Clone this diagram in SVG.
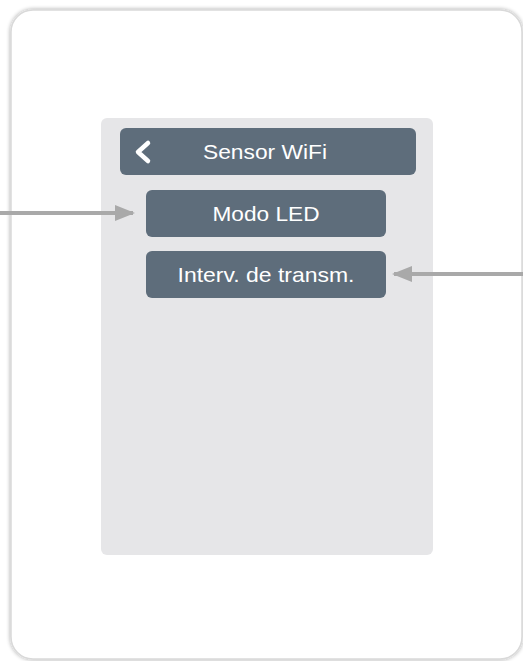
<svg xmlns="http://www.w3.org/2000/svg" width="523" height="661" viewBox="0 0 523 661">
<defs>
<filter id="sh" x="-5%" y="-5%" width="110%" height="110%">
<feGaussianBlur in="SourceAlpha" stdDeviation="2"/>
<feOffset dx="0" dy="0"/>
<feComponentTransfer><feFuncA type="linear" slope="0.35"/></feComponentTransfer>
<feMerge><feMergeNode/><feMergeNode in="SourceGraphic"/></feMerge>
</filter>
<marker id="ah" markerWidth="5" markerHeight="4" refX="4.5" refY="2" orient="auto" markerUnits="strokeWidth">
<path d="M0,0 L5,2 L0,4 Z" fill="#a9a9a9"/>
</marker>
</defs>
<style>
.btn{fill:#5e6d7b}
.lbl{font-family:"Liberation Sans",Arial,sans-serif;font-size:21px;fill:#ffffff;text-anchor:middle}
.conn{stroke:#a9a9a9;stroke-width:4;fill:none}
</style>
<rect width="523" height="661" fill="#ffffff"/>
<g id="frame">
<rect x="11" y="10" width="511" height="649" rx="22" fill="#ffffff" stroke="#d9d9d9" stroke-width="1.5" filter="url(#sh)"/>
</g>
<g id="panel">
<rect x="101" y="118" width="332" height="437" rx="6" fill="#e6e6e8"/>
</g>
<g id="header">
<rect class="btn" x="120" y="128" width="296" height="47" rx="6"/>
<path d="M148,143 L138,152 L148,161" stroke="#ffffff" stroke-width="4.5" fill="none" stroke-linecap="round" stroke-linejoin="round"/>
<text class="lbl" x="265" y="159" textLength="124" lengthAdjust="spacingAndGlyphs">Sensor WiFi</text>
</g>
<g id="modo-led">
<rect class="btn" x="146" y="190" width="240" height="47" rx="6"/>
<text class="lbl" x="266" y="221" textLength="107" lengthAdjust="spacingAndGlyphs">Modo LED</text>
</g>
<g id="interv">
<rect class="btn" x="146" y="251" width="240" height="47" rx="6"/>
<text class="lbl" x="266" y="282" textLength="177" lengthAdjust="spacingAndGlyphs">Interv. de transm.</text>
</g>
<g id="connectors">
<line class="conn" x1="0" y1="213" x2="133" y2="213" marker-end="url(#ah)"/>
<line class="conn" x1="523" y1="274" x2="394" y2="274" marker-end="url(#ah)"/>
</g>
</svg>
